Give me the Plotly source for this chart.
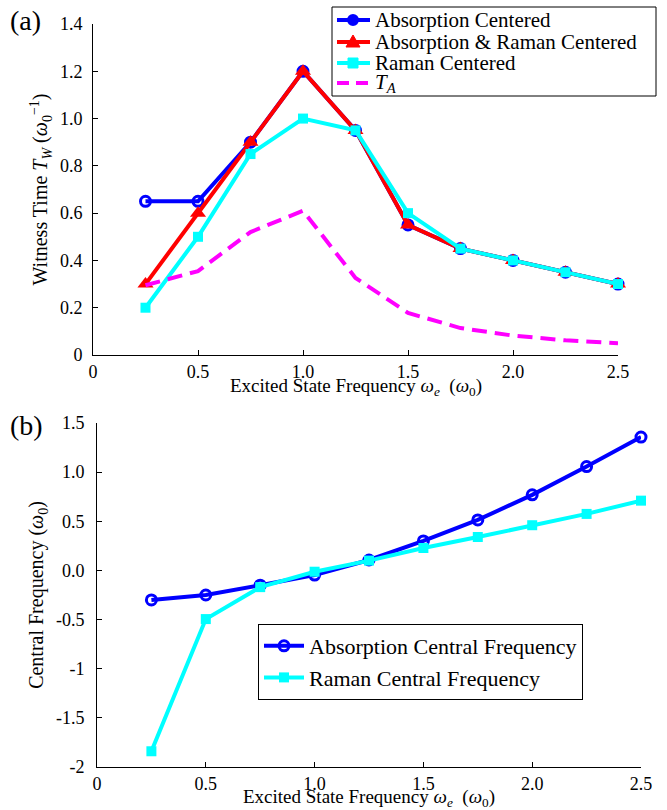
import plotly.graph_objects as go

# ---- data ----
we = [0.25, 0.5, 0.75, 1.0, 1.25, 1.5, 1.75, 2.0, 2.25, 2.5]

abs_centered = [0.65, 0.65, 0.90, 1.20, 0.95, 0.55, 0.45, 0.40, 0.35, 0.30]
abs_raman_centered = [0.30, 0.60, 0.90, 1.20, 0.95, 0.55, 0.45, 0.40, 0.35, 0.30]
raman_centered = [0.20, 0.50, 0.85, 1.00, 0.95, 0.60, 0.45, 0.40, 0.35, 0.30]
t_a = [0.295, 0.355, 0.52, 0.61, 0.326, 0.178, 0.114, 0.082, 0.062, 0.05]

abs_central_freq = [-0.30, -0.25, -0.15, -0.047, 0.106, 0.30, 0.514, 0.769, 1.057, 1.357]
raman_central_freq = [-1.84, -0.495, -0.17, -0.013, 0.10, 0.228, 0.34, 0.46, 0.575, 0.71]

x_ticks = [0, 0.5, 1.0, 1.5, 2.0, 2.5]
x_ticktext = ["0", "0.5", "1.0", "1.5", "2.0", "2.5"]
y1_ticks = [0, 0.2, 0.4, 0.6, 0.8, 1.0, 1.2, 1.4]
y1_ticktext = ["0", "0.2", "0.4", "0.6", "0.8", "1.0", "1.2", "1.4"]
y2_ticks = [-2, -1.5, -1, -0.5, 0, 0.5, 1.0, 1.5]
y2_ticktext = ["-2", "-1.5", "-1", "-0.5", "0.0", "0.5", "1.0", "1.5"]

legend_a_names = ["Absorption Centered", "Absorption &amp; Raman Centered",
                  "Raman Centered", "<i>T<sub>A</sub></i>"]

FONT = "Liberation Serif, Times New Roman, serif"
BLUE, RED, CYAN, MAG = "#0000ff", "#ff0000", "#00ffff", "#ff00ff"

W, H = 667, 810


def fx(px):
    return px / W


def fy(py):
    return 1 - py / H


fig = go.Figure()

# ---- panel (a) ----
fig.add_trace(go.Scatter(x=we, y=abs_centered, name=legend_a_names[0],
                         mode="lines+markers", line=dict(color=BLUE, width=4),
                         marker=dict(symbol="circle-open", size=10, color=BLUE, line=dict(width=3, color=BLUE)),
                         cliponaxis=False, xaxis="x", yaxis="y", showlegend=False))
fig.add_trace(go.Scatter(x=we, y=abs_raman_centered, name=legend_a_names[1],
                         mode="lines+markers", line=dict(color=RED, width=4),
                         marker=dict(symbol="triangle-up", size=14, color=RED),
                         cliponaxis=False, xaxis="x", yaxis="y", showlegend=False))
fig.add_trace(go.Scatter(x=we, y=raman_centered, name=legend_a_names[2],
                         mode="lines+markers", line=dict(color=CYAN, width=4),
                         marker=dict(symbol="square", size=10, color=CYAN),
                         cliponaxis=False, xaxis="x", yaxis="y", showlegend=False))
fig.add_trace(go.Scatter(x=we, y=t_a, name=legend_a_names[3],
                         mode="lines", line=dict(color=MAG, width=4, dash="15px,8px"),
                         cliponaxis=False, xaxis="x", yaxis="y", showlegend=False))

# ---- panel (b) ----
fig.add_trace(go.Scatter(x=we, y=abs_central_freq, name="Absorption Central Frequency",
                         mode="lines+markers", line=dict(color=BLUE, width=4),
                         marker=dict(symbol="circle-open", size=10, color=BLUE, line=dict(width=3, color=BLUE)),
                         cliponaxis=False, xaxis="x2", yaxis="y2", legend="legend2"))
fig.add_trace(go.Scatter(x=we, y=raman_central_freq, name="Raman Central Frequency",
                         mode="lines+markers", line=dict(color=CYAN, width=4),
                         marker=dict(symbol="square", size=10, color=CYAN),
                         cliponaxis=False, xaxis="x2", yaxis="y2", legend="legend2"))

# ---- hand-built legend for panel (a) (tight MATLAB-style rows) ----
shapes = [dict(type="rect", xref="paper", yref="paper",
               x0=fx(332), x1=fx(656), y0=fy(96), y1=fy(7),
               line=dict(color="black", width=1), fillcolor="white", layer="above")]
annotations = []
row_y = [20, 42, 63, 83]
colors = [BLUE, RED, CYAN, MAG]
for i, (name, col, ry) in enumerate(zip(legend_a_names, colors, row_y)):
    if i < 3:
        shapes.append(dict(type="line", xref="paper", yref="paper",
                           x0=fx(337), x1=fx(370), y0=fy(ry), y1=fy(ry),
                           line=dict(color=col, width=4), layer="above"))
    else:
        shapes.append(dict(type="line", xref="paper", yref="paper",
                           x0=fx(337), x1=fx(370), y0=fy(ry), y1=fy(ry),
                           line=dict(color=col, width=4, dash="12px,7px"), layer="above"))
    cx = 353
    if i == 0:
        shapes.append(dict(type="circle", xref="paper", yref="paper",
                           x0=fx(cx - 5), x1=fx(cx + 5), y0=fy(ry + 5), y1=fy(ry - 5),
                           line=dict(color=col, width=2), fillcolor=col, layer="above"))
    elif i == 1:
        path = "M {},{} L {},{} L {},{} Z".format(fx(cx - 7), fy(ry + 5), fx(cx + 7), fy(ry + 5),
                                                  fx(cx), fy(ry - 7))
        shapes.append(dict(type="path", xref="paper", yref="paper", path=path,
                           line=dict(color=col, width=1), fillcolor=col, layer="above"))
    elif i == 2:
        shapes.append(dict(type="rect", xref="paper", yref="paper",
                           x0=fx(cx - 5), x1=fx(cx + 5), y0=fy(ry + 5), y1=fy(ry - 5),
                           line=dict(color=col, width=1), fillcolor=col, layer="above"))
    annotations.append(dict(text=name, x=fx(373), y=fy(ry), xref="paper", yref="paper",
                            xanchor="left", yanchor="middle", showarrow=False,
                            font=dict(family=FONT, size=21, color="black")))

TFONT = dict(family=FONT, size=19, color="black")
xtitle = "Excited State Frequency <i>ω<sub>e</sub></i>  (<i>ω</i><sub>0</sub>)"

annotations += [
    dict(text="(a)", x=fx(8), y=fy(21), xref="paper", yref="paper",
         xanchor="left", yanchor="middle", showarrow=False,
         font=dict(family=FONT, size=28, color="black")),
    dict(text="(b)", x=fx(8), y=fy(425), xref="paper", yref="paper",
         xanchor="left", yanchor="middle", showarrow=False,
         font=dict(family=FONT, size=28, color="black")),
    # x-axis titles
    dict(text=xtitle, x=fx((93 + 618) / 2), y=fy(387), xref="paper", yref="paper",
         xanchor="center", yanchor="middle", showarrow=False, font=TFONT),
    dict(text=xtitle, x=fx((97 + 641) / 2), y=fy(798), xref="paper", yref="paper",
         xanchor="center", yanchor="middle", showarrow=False, font=TFONT),
]

axis_common = dict(showline=True, linecolor="black", linewidth=1, ticks="inside",
                   ticklen=5, tickcolor="black", showgrid=False, zeroline=False,
                   mirror=False, automargin=False,
                   tickfont=dict(family=FONT, size=18, color="black"))

fig.update_layout(
    width=W, height=H,
    margin=dict(l=0, r=0, t=0, b=0),
    paper_bgcolor="white", plot_bgcolor="white",
    font=dict(family=FONT, size=18, color="black"),
    xaxis=dict(domain=[fx(93), fx(618)], range=[0, 2.5], anchor="y",
               tickvals=x_ticks, ticktext=x_ticktext,
               **axis_common),
    yaxis=dict(domain=[fy(355), fy(24)], range=[0, 1.4], anchor="x",
               tickvals=y1_ticks, ticktext=y1_ticktext, ticklabelstandoff=6,
               title=dict(text="Witness Time <i>T<sub>W</sub></i> (<i>ω</i><sub>0</sub><sup>−1</sup>)",
                          font=dict(family=FONT, size=20, color="black"), standoff=6),
               **axis_common),
    xaxis2=dict(domain=[fx(97), fx(641)], range=[0, 2.5], anchor="y2",
                tickvals=x_ticks, ticktext=x_ticktext,
                **axis_common),
    yaxis2=dict(domain=[fy(767), fy(423)], range=[-2, 1.5], anchor="x2",
                tickvals=y2_ticks, ticktext=y2_ticktext, ticklabelstandoff=8,
                title=dict(text="Central Frequency (<i>ω</i><sub>0</sub>)",
                           font=dict(family=FONT, size=20, color="black"), standoff=6),
                **axis_common),
    legend2=dict(x=fx(258), y=fy(624), xanchor="left", yanchor="top",
                 bgcolor="white", bordercolor="black", borderwidth=1,
                 font=dict(family=FONT, size=22, color="black"), itemwidth=40,
                 tracegroupgap=0),
    showlegend=True,
    shapes=shapes,
    annotations=annotations,
)

# remove the browser's default 8px body margin so the figure fills the window exactly
fig.write_html("out.html", config={"displayModeBar": False},
               post_script="document.body.style.margin='0px';")
